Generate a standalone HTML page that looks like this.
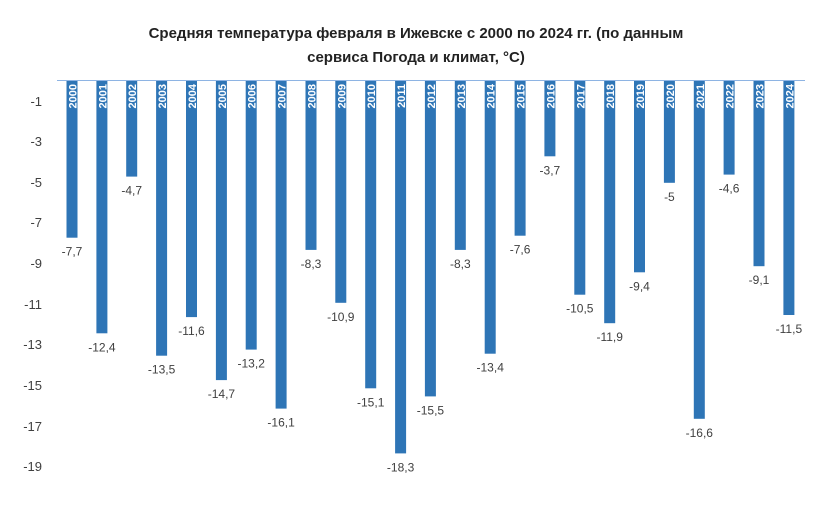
<!DOCTYPE html>
<html><head><meta charset="utf-8"><style>
body{margin:0;background:#fff}
</style></head><body>
<svg width="831" height="520" xmlns="http://www.w3.org/2000/svg" font-family="Liberation Sans, sans-serif">
<rect width="831" height="520" fill="#fff"/>
<text x="416" y="38" text-anchor="middle" font-size="15" font-weight="bold" fill="#222">Средняя температура февраля в Ижевске с 2000 по 2024 гг. (по данным</text>
<text x="416" y="62" text-anchor="middle" font-size="15" font-weight="bold" fill="#222">сервиса Погода и климат, °C)</text>
<line x1="57" y1="80.5" x2="805" y2="80.5" stroke="#8eb4e3" stroke-width="1"/>
<g font-size="13" fill="#404040" text-anchor="end">
<text x="42" y="106">-1</text><text x="42" y="146">-3</text><text x="42" y="187">-5</text><text x="42" y="227">-7</text><text x="42" y="268">-9</text><text x="42" y="309">-11</text><text x="42" y="349">-13</text><text x="42" y="390">-15</text><text x="42" y="431">-17</text><text x="42" y="471">-19</text>
</g>
<g fill="#2e75b6">
<rect x="66.5" y="81" width="11" height="156.7"/>
<rect x="96.4" y="81" width="11" height="252.3"/>
<rect x="126.2" y="81" width="11" height="95.6"/>
<rect x="156.1" y="81" width="11" height="274.7"/>
<rect x="186" y="81" width="11" height="236.1"/>
<rect x="215.9" y="81" width="11" height="299.1"/>
<rect x="245.7" y="81" width="11" height="268.6"/>
<rect x="275.6" y="81" width="11" height="327.6"/>
<rect x="305.5" y="81" width="11" height="168.9"/>
<rect x="335.3" y="81" width="11" height="221.8"/>
<rect x="365.2" y="81" width="11" height="307.3"/>
<rect x="395.1" y="81" width="11" height="372.4"/>
<rect x="424.9" y="81" width="11" height="315.4"/>
<rect x="454.8" y="81" width="11" height="168.9"/>
<rect x="484.7" y="81" width="11" height="272.7"/>
<rect x="514.6" y="81" width="11" height="154.7"/>
<rect x="544.4" y="81" width="11" height="75.3"/>
<rect x="574.3" y="81" width="11" height="213.7"/>
<rect x="604.2" y="81" width="11" height="242.2"/>
<rect x="634" y="81" width="11" height="191.3"/>
<rect x="663.9" y="81" width="11" height="101.8"/>
<rect x="693.8" y="81" width="11" height="337.8"/>
<rect x="723.6" y="81" width="11" height="93.6"/>
<rect x="753.5" y="81" width="11" height="185.2"/>
<rect x="783.4" y="81" width="11" height="234"/>
</g>
<g font-size="11" font-weight="bold" fill="#fff" text-anchor="end">
<text transform="translate(76.5,84) rotate(-90)">2000</text>
<text transform="translate(106.4,84) rotate(-90)">2001</text>
<text transform="translate(136.2,84) rotate(-90)">2002</text>
<text transform="translate(166.1,84) rotate(-90)">2003</text>
<text transform="translate(196,84) rotate(-90)">2004</text>
<text transform="translate(225.9,84) rotate(-90)">2005</text>
<text transform="translate(255.7,84) rotate(-90)">2006</text>
<text transform="translate(285.6,84) rotate(-90)">2007</text>
<text transform="translate(315.5,84) rotate(-90)">2008</text>
<text transform="translate(345.3,84) rotate(-90)">2009</text>
<text transform="translate(375.2,84) rotate(-90)">2010</text>
<text transform="translate(405.1,84) rotate(-90)">2011</text>
<text transform="translate(434.9,84) rotate(-90)">2012</text>
<text transform="translate(464.8,84) rotate(-90)">2013</text>
<text transform="translate(494.7,84) rotate(-90)">2014</text>
<text transform="translate(524.6,84) rotate(-90)">2015</text>
<text transform="translate(554.4,84) rotate(-90)">2016</text>
<text transform="translate(584.3,84) rotate(-90)">2017</text>
<text transform="translate(614.2,84) rotate(-90)">2018</text>
<text transform="translate(644,84) rotate(-90)">2019</text>
<text transform="translate(673.9,84) rotate(-90)">2020</text>
<text transform="translate(703.8,84) rotate(-90)">2021</text>
<text transform="translate(733.6,84) rotate(-90)">2022</text>
<text transform="translate(763.5,84) rotate(-90)">2023</text>
<text transform="translate(793.4,84) rotate(-90)">2024</text>
</g>
<g font-size="12" fill="#404040" text-anchor="middle">
<text x="72" y="255.7">-7,7</text>
<text x="101.9" y="351.3">-12,4</text>
<text x="131.7" y="194.6">-4,7</text>
<text x="161.6" y="373.7">-13,5</text>
<text x="191.5" y="335.1">-11,6</text>
<text x="221.4" y="398.1">-14,7</text>
<text x="251.2" y="367.6">-13,2</text>
<text x="281.1" y="426.6">-16,1</text>
<text x="311" y="267.9">-8,3</text>
<text x="340.8" y="320.8">-10,9</text>
<text x="370.7" y="406.3">-15,1</text>
<text x="400.6" y="471.4">-18,3</text>
<text x="430.4" y="414.4">-15,5</text>
<text x="460.3" y="267.9">-8,3</text>
<text x="490.2" y="371.7">-13,4</text>
<text x="520.1" y="253.7">-7,6</text>
<text x="549.9" y="174.3">-3,7</text>
<text x="579.8" y="312.7">-10,5</text>
<text x="609.7" y="341.2">-11,9</text>
<text x="639.5" y="290.3">-9,4</text>
<text x="669.4" y="200.8">-5</text>
<text x="699.3" y="436.8">-16,6</text>
<text x="729.1" y="192.6">-4,6</text>
<text x="759" y="284.2">-9,1</text>
<text x="788.9" y="333">-11,5</text>
</g>
</svg>
</body></html>
